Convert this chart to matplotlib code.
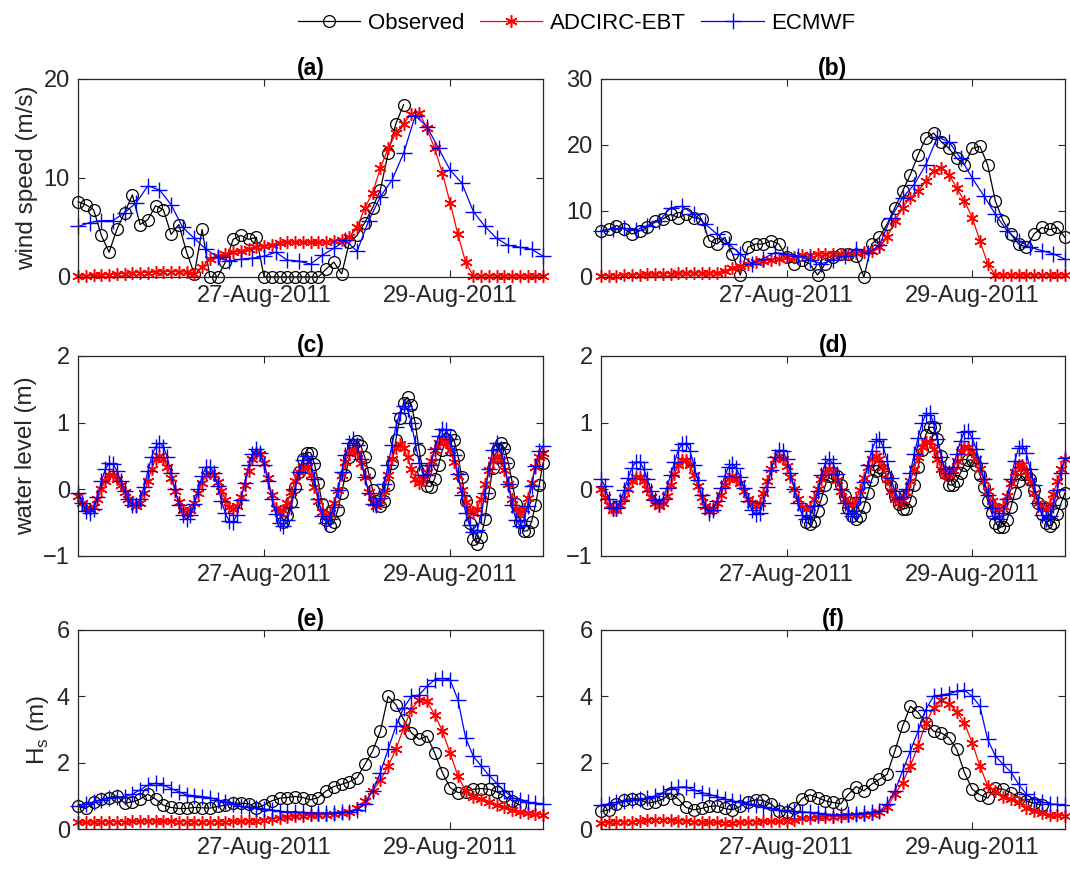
import numpy as np
import matplotlib
matplotlib.use("Agg")
import matplotlib.pyplot as plt
import matplotlib.dates as mdates

plt.rcParams['font.family'] = ['Liberation Sans', 'DejaVu Sans']

# time axes (hours from 25-Aug-2011 00:00)
start = np.datetime64('2011-08-25T00:00')
t_h1 = start + np.arange(121) * np.timedelta64(1, 'h')   # hourly
t_h2 = start + np.arange(61) * np.timedelta64(2, 'h')    # 2-hourly
t_h3 = start + np.arange(41) * np.timedelta64(3, 'h')    # 3-hourly (ECMWF wind)

# ---- wind speed (m/s) ----
wind_a_obs = [7.6, 7.3, 6.8, 4.2, 2.5, 4.8, 6.5, 8.3, 5.3, 5.8, 7.2, 6.8, 4.3, 5.3, 2.5, 0.3,
              4.8, 0.0, 0.0, 1.5, 3.8, 4.2, 3.8, 4.0, 0.0, 0.0, 0.0, 0.0, 0.0, 0.0, 0.0, 0.0,
              0.8, 1.5, 0.3, 3.5, 4.2, 5.5, 7.0, 8.8, 12.5, 15.5, 17.4]
wind_a_adc = [0.1, 0.1, 0.15, 0.2, 0.25, 0.3, 0.35, 0.4, 0.45, 0.45, 0.5, 0.55, 0.55, 0.5, 0.5,
              0.3, 1.0, 1.8, 2.1, 2.3, 2.5, 2.6, 2.8, 3.0, 3.1, 3.2, 3.4, 3.5, 3.5, 3.5, 3.5,
              3.5, 3.5, 3.6, 3.7, 4.0, 5.0, 7.0, 8.5, 11.0, 13.0, 14.5, 15.5, 16.5, 16.6, 15.0,
              13.0, 10.5, 7.5, 4.3, 1.5, 0.1, 0.1, 0.1, 0.1, 0.1, 0.1, 0.1, 0.1, 0.1, 0.1]
wind_a_ecm = [5.1, 5.5, 5.7, 5.7, 6.5, 7.5, 9.2, 8.8, 7.3, 5.0, 3.9, 2.8, 2.0, 1.6, 1.8, 1.9,
              2.1, 2.5, 1.7, 1.6, 1.3, 2.2, 2.9, 3.7, 2.6, 5.7, 8.1, 9.8, 12.5, 16.3, 15.2,
              13.0, 10.8, 9.5, 6.6, 5.1, 3.9, 3.2, 3.0, 2.8, 2.1]

wind_b_obs = [7.0, 7.2, 7.8, 7.3, 6.5, 7.0, 7.5, 8.5, 8.8, 9.5, 9.0, 9.5, 9.0, 8.8, 5.5, 5.0,
              6.0, 3.5, 0.3, 4.5, 5.0, 5.0, 5.5, 5.0, 3.0, 2.0, 2.5, 2.0, 0.3, 2.0, 3.0, 3.5,
              3.5, 3.2, 0.0, 5.0, 6.0, 8.0, 10.5, 13.0, 15.5, 18.5, 21.0, 21.8, 20.5, 19.5,
              18.0, 17.0, 19.5, 19.8, 17.0, 11.5, 8.5, 6.5, 5.0, 4.5, 6.5, 7.5, 7.2, 7.5, 6.0]
wind_b_adc = [0.2, 0.2, 0.2, 0.25, 0.3, 0.35, 0.4, 0.45, 0.5, 0.5, 0.55, 0.6, 0.6, 0.6, 0.6,
              0.6, 0.9, 1.4, 1.7, 2.0, 2.2, 2.4, 2.6, 2.8, 3.0, 3.1, 3.3, 3.4, 3.5, 3.5, 3.5,
              3.5, 3.5, 3.6, 3.8, 4.0, 4.5, 6.0, 8.5, 10.5, 12.0, 13.0, 14.5, 16.0, 16.5, 15.5,
              13.5, 11.5, 9.0, 5.5, 2.0, 0.3, 0.3, 0.3, 0.3, 0.3, 0.3, 0.3, 0.3, 0.3, 0.3]
wind_b_ecm = [7.0, 7.3, 7.4, 7.1, 7.8, 8.5, 10.5, 10.7, 9.5, 8.0, 6.5, 5.0, 3.5, 2.0, 2.8, 3.7,
              3.5, 3.2, 2.5, 2.0, 2.6, 3.2, 4.3, 3.6, 4.8, 9.0, 12.0, 14.0, 17.0, 21.2, 20.5,
              18.0, 15.0, 12.3, 9.5, 7.0, 5.5, 4.5, 4.0, 3.5, 2.7]

# ---- water level (m), hourly; observed starts at hour 53 ----
wl_c_obs = [-0.49, -0.39, -0.19, 0.04, 0.26, 0.46, 0.55,
            0.55, 0.38, 0.10, -0.22, -0.46, -0.55, -0.49, -0.31, -0.05, 0.22,
            0.48, 0.66, 0.72, 0.65, 0.48, 0.24, -0.01, -0.18, -0.25, -0.17,
            0.06, 0.39, 0.74, 1.07, 1.30, 1.38, 1.27, 0.99, 0.59, 0.27,
            0.05, 0.04, 0.16, 0.36, 0.59, 0.76, 0.82, 0.74, 0.51, 0.18,
            -0.18, -0.51, -0.74, -0.82, -0.71, -0.44, -0.06, 0.32, 0.59, 0.70,
            0.62, 0.40, 0.11, -0.22, -0.49, -0.63, -0.62, -0.49, -0.24, 0.07,
            0.40]
wl_c_adc = [-0.10, -0.20, -0.28, -0.30, -0.26, -0.15, 0.00, 0.13, 0.21, 0.21,
            0.16, 0.07, -0.04, -0.15, -0.22, -0.25, -0.20, -0.06, 0.13, 0.31,
            0.45, 0.50, 0.46, 0.34, 0.17, -0.02, -0.19, -0.31, -0.35, -0.31,
            -0.20, -0.05, 0.10, 0.21, 0.25, 0.21, 0.11, -0.03, -0.16, -0.26,
            -0.30, -0.25, -0.11, 0.07, 0.28, 0.45, 0.54, 0.53, 0.40, 0.17,
            -0.09, -0.28, -0.35, -0.31, -0.20, -0.04, 0.13, 0.26, 0.34, 0.34,
            0.22, 0.04, -0.18, -0.34, -0.40, -0.35, -0.21, -0.01, 0.21, 0.41,
            0.55, 0.60, 0.54, 0.39, 0.18, -0.04, -0.19, -0.25, -0.18, -0.02,
            0.22, 0.45, 0.62, 0.68, 0.62, 0.48, 0.30, 0.16, 0.10, 0.15,
            0.26, 0.43, 0.59, 0.70, 0.75, 0.71, 0.59, 0.41, 0.20, -0.01,
            -0.19, -0.31, -0.35, -0.29, -0.14, 0.08, 0.29, 0.44, 0.50, 0.44,
            0.29, 0.08, -0.14, -0.29, -0.35, -0.29, -0.13, 0.10, 0.33, 0.49,
            0.55]
wl_c_ecm = [-0.05, -0.20, -0.32, -0.35, -0.29, -0.11, 0.12, 0.30, 0.39, 0.38,
            0.28, 0.13, -0.02, -0.15, -0.24, -0.24, -0.15, 0.04, 0.27, 0.49,
            0.64, 0.70, 0.64, 0.48, 0.25, 0.00, -0.23, -0.39, -0.45, -0.39,
            -0.22, 0.00, 0.20, 0.33, 0.34, 0.25, 0.05, -0.17, -0.36, -0.48,
            -0.49, -0.38, -0.16, 0.10, 0.36, 0.53, 0.60, 0.54, 0.37, 0.13,
            -0.14, -0.37, -0.51, -0.55, -0.46, -0.26, 0.01, 0.26, 0.44, 0.50,
            0.40, 0.15, -0.15, -0.40, -0.50, -0.44, -0.26, -0.01, 0.26, 0.51,
            0.69, 0.75, 0.67, 0.46, 0.19, -0.06, -0.22, -0.24, -0.13, 0.08,
            0.37, 0.67, 0.94, 1.15, 1.25, 1.21, 0.99, 0.69, 0.40, 0.22,
            0.22, 0.37, 0.60, 0.80, 0.91, 0.89, 0.75, 0.51, 0.23, -0.08,
            -0.35, -0.54, -0.64, -0.61, -0.39, -0.06, 0.31, 0.59, 0.70, 0.61,
            0.39, 0.08, -0.24, -0.46, -0.55, -0.47, -0.25, 0.05, 0.35, 0.57,
            0.65]

wl_d_obs = [-0.49, -0.52, -0.47, -0.33, -0.14, 0.06, 0.20,
            0.25, 0.20, 0.07, -0.10, -0.28, -0.40, -0.45, -0.40, -0.26, -0.06,
            0.14, 0.28, 0.33, 0.29, 0.19, 0.05, -0.10, -0.22, -0.29, -0.29,
            -0.17, 0.06, 0.33, 0.59, 0.82, 0.93, 0.93, 0.76, 0.50, 0.24,
            0.07, 0.06, 0.13, 0.25, 0.37, 0.44, 0.44, 0.37, 0.22, 0.04,
            -0.17, -0.35, -0.50, -0.57, -0.56, -0.46, -0.27, -0.06, 0.13, 0.23,
            0.23, 0.15, -0.01, -0.20, -0.37, -0.50, -0.55, -0.50, -0.37, -0.21,
            -0.05]
wl_d_adc = [0.00, -0.12, -0.24, -0.31, -0.31, -0.24, -0.13, 0.01, 0.12, 0.19,
            0.19, 0.12, 0.01, -0.12, -0.21, -0.25, -0.21, -0.10, 0.06, 0.23,
            0.37, 0.44, 0.44, 0.37, 0.21, 0.05, -0.12, -0.25, -0.32, -0.30,
            -0.21, -0.08, 0.06, 0.16, 0.20, 0.17, 0.09, -0.03, -0.14, -0.22,
            -0.25, -0.20, -0.06, 0.13, 0.31, 0.45, 0.50, 0.46, 0.35, 0.19,
            0.01, -0.15, -0.26, -0.30, -0.26, -0.15, 0.00, 0.15, 0.26, 0.30,
            0.26, 0.14, -0.02, -0.15, -0.24, -0.24, -0.16, -0.01, 0.17, 0.34,
            0.46, 0.50, 0.45, 0.33, 0.15, -0.03, -0.15, -0.20, -0.16, -0.04,
            0.12, 0.31, 0.49, 0.63, 0.71, 0.71, 0.61, 0.46, 0.31, 0.21,
            0.21, 0.29, 0.43, 0.56, 0.64, 0.64, 0.57, 0.46, 0.31, 0.13,
            -0.03, -0.18, -0.26, -0.30, -0.25, -0.10, 0.09, 0.26, 0.37, 0.37,
            0.28, 0.13, -0.05, -0.20, -0.29, -0.29, -0.22, -0.07, 0.12, 0.30,
            0.45]
wl_d_ecm = [0.15, 0.05, -0.15, -0.28, -0.28, -0.18, -0.01, 0.17, 0.32, 0.41,
            0.41, 0.31, 0.15, -0.03, -0.16, -0.20, -0.14, 0.02, 0.21, 0.41,
            0.59, 0.68, 0.69, 0.58, 0.37, 0.14, -0.09, -0.27, -0.35, -0.31,
            -0.17, 0.02, 0.20, 0.34, 0.38, 0.32, 0.18, 0.02, -0.17, -0.31,
            -0.37, -0.35, -0.20, 0.03, 0.29, 0.49, 0.59, 0.58, 0.45, 0.25,
            0.01, -0.21, -0.38, -0.45, -0.41, -0.25, -0.03, 0.21, 0.39, 0.45,
            0.39, 0.23, 0.00, -0.21, -0.36, -0.40, -0.32, -0.12, 0.11, 0.37,
            0.58, 0.72, 0.75, 0.64, 0.43, 0.17, -0.03, -0.14, -0.12, 0.01,
            0.25, 0.53, 0.77, 0.99, 1.12, 1.14, 1.00, 0.75, 0.49, 0.30,
            0.25, 0.34, 0.53, 0.73, 0.86, 0.87, 0.77, 0.61, 0.40, 0.15,
            -0.08, -0.28, -0.40, -0.45, -0.36, -0.14, 0.16, 0.42, 0.62, 0.65,
            0.54, 0.31, 0.07, -0.20, -0.38, -0.45, -0.40, -0.24, -0.01, 0.25,
            0.47]

# ---- significant wave height (m), 2-hourly; observed ends at hour 114 ----
hs_e_obs = [0.68, 0.62, 0.80, 0.90, 0.95, 1.00, 0.78, 0.82, 0.90, 1.05,
            0.90, 0.72, 0.65, 0.62, 0.62, 0.65, 0.64, 0.63, 0.68, 0.72,
            0.78, 0.78, 0.76, 0.64, 0.72, 0.85, 0.93, 0.95, 0.98, 0.95,
            0.88, 0.95, 1.15, 1.28, 1.35, 1.42, 1.55, 1.95, 2.35, 2.95,
            4.00, 3.75, 3.30, 2.90, 2.70, 2.80, 2.30, 1.70, 1.25, 1.10,
            1.12, 1.20, 1.22, 1.20, 1.12, 1.00, 0.85, 0.72]
hs_e_adc = [0.20, 0.20, 0.21, 0.21, 0.22, 0.22, 0.22, 0.23, 0.23, 0.24,
            0.24, 0.23, 0.23, 0.22, 0.22, 0.22, 0.22, 0.22, 0.22, 0.22,
            0.23, 0.23, 0.24, 0.25, 0.28, 0.31, 0.34, 0.36, 0.38, 0.40,
            0.41, 0.42, 0.43, 0.45, 0.48, 0.52, 0.62, 0.83, 1.15, 1.47,
            1.90, 2.40, 3.05, 3.60, 3.90, 3.85, 3.45, 2.95, 2.29, 1.60,
            1.15, 0.98, 0.90, 0.82, 0.72, 0.65, 0.57, 0.52, 0.47, 0.44,
            0.43]
hs_e_ecm = [0.70, 0.75, 0.82, 0.88, 0.93, 0.96, 0.98, 1.05, 1.18, 1.32,
            1.38, 1.32, 1.22, 1.12, 1.03, 1.00, 0.98, 0.95, 0.88, 0.82,
            0.75, 0.68, 0.65, 0.62, 0.60, 0.58, 0.53, 0.52, 0.52, 0.50,
            0.48, 0.48, 0.48, 0.49, 0.50, 0.52, 0.58, 0.75, 1.15, 1.70,
            2.40, 3.10, 3.65, 4.00, 4.04, 4.30, 4.50, 4.54, 4.49, 3.90,
            2.75, 2.19, 1.90, 1.62, 1.38, 1.15, 0.95, 0.86, 0.81, 0.78,
            0.76]

hs_f_obs = [0.53, 0.58, 0.75, 0.88, 0.92, 0.90, 0.78, 0.82, 0.90, 1.08,
            0.90, 0.65, 0.58, 0.62, 0.68, 0.70, 0.62, 0.58, 0.68, 0.82,
            0.88, 0.86, 0.75, 0.55, 0.50, 0.62, 0.92, 1.03, 0.95, 0.85,
            0.80, 0.76, 1.05, 1.28, 1.15, 1.35, 1.50, 1.65, 2.35, 3.10,
            3.70, 3.52, 3.20, 2.95, 2.90, 2.75, 2.40, 1.70, 1.20, 1.03,
            0.93, 1.25, 1.20, 1.10, 0.95, 0.85, 0.78, 0.72]
hs_f_adc = [0.18, 0.20, 0.22, 0.22, 0.22, 0.24, 0.26, 0.28, 0.28, 0.27,
            0.25, 0.24, 0.22, 0.21, 0.20, 0.20, 0.19, 0.19, 0.20, 0.21,
            0.22, 0.23, 0.23, 0.23, 0.24, 0.28, 0.32, 0.34, 0.35, 0.36,
            0.37, 0.38, 0.39, 0.41, 0.43, 0.46, 0.50, 0.65, 1.05, 1.40,
            1.90, 2.50, 3.20, 3.65, 3.88, 3.78, 3.54, 3.20, 2.60, 1.90,
            1.30, 1.15, 0.98, 0.90, 0.80, 0.62, 0.55, 0.48, 0.43, 0.41,
            0.40]
hs_f_ecm = [0.72, 0.76, 0.80, 0.84, 0.87, 0.90, 0.93, 1.00, 1.10, 1.20,
            1.26, 1.27, 1.18, 1.10, 1.04, 0.98, 0.90, 0.85, 0.80, 0.76,
            0.72, 0.67, 0.62, 0.57, 0.55, 0.53, 0.52, 0.50, 0.48, 0.45,
            0.43, 0.43, 0.44, 0.46, 0.48, 0.50, 0.53, 0.75, 1.15, 1.75,
            2.35, 2.95, 3.60, 4.00, 4.04, 4.08, 4.15, 4.19, 4.00, 3.70,
            2.70, 2.20, 1.95, 1.72, 1.35, 1.05, 0.90, 0.82, 0.76, 0.74,
            0.72]

labels = ['Observed', 'ADCIRC-EBT', 'ECMWF']
titles = ['(a)', '(b)', '(c)', '(d)', '(e)', '(f)']
ylabels = ['wind speed (m/s)', 'water level (m)', 'H$_\\mathregular{s}$ (m)']

AX_COL = '#262626'
ASTERISK = (6, 2, 0)   # MATLAB-like '*' marker
fig = plt.figure(figsize=(10.7, 8.71), dpi=100)

# axes rectangles [left, bottom, width, height] in figure fractions
lefts = [0.073, 0.5617]
widths = [0.4346, 0.4336]
bottoms = [0.682, 0.3617, 0.0482]
heights = [0.2273, 0.2296, 0.2285]

panels = [
    ((t_h2[:len(wind_a_obs)], wind_a_obs), (t_h2, wind_a_adc), (t_h3, wind_a_ecm), (0, 20), [0, 10, 20]),
    ((t_h2, wind_b_obs), (t_h2, wind_b_adc), (t_h3, wind_b_ecm), (0, 30), [0, 10, 20, 30]),
    ((t_h1[53:], wl_c_obs), (t_h1, wl_c_adc), (t_h1, wl_c_ecm), (-1, 2), [-1, 0, 1, 2]),
    ((t_h1[53:], wl_d_obs), (t_h1, wl_d_adc), (t_h1, wl_d_ecm), (-1, 2), [-1, 0, 1, 2]),
    ((t_h2[:len(hs_e_obs)], hs_e_obs), (t_h2, hs_e_adc), (t_h2, hs_e_ecm), (0, 6), [0, 2, 4, 6]),
    ((t_h2[:len(hs_f_obs)], hs_f_obs), (t_h2, hs_f_adc), (t_h2, hs_f_ecm), (0, 6), [0, 2, 4, 6]),
]

handles = None
for i, (obs, adc, ecm, ylim, yticks) in enumerate(panels):
    row, col = i // 2, i % 2
    ax = fig.add_axes([lefts[col], bottoms[row], widths[col], heights[row]])
    h1, = ax.plot(obs[0], obs[1], '-', marker='o', color='k', lw=0.9, ms=8.5, mfc='none',
                  mew=0.9, clip_on=False)
    h2, = ax.plot(adc[0], adc[1], '-', marker=ASTERISK, color='r', lw=0.9, ms=9, mew=1.1,
                  clip_on=False)
    h3, = ax.plot(ecm[0], ecm[1], '-', marker='+', color='b', lw=0.9, ms=11, mew=1.0,
                  clip_on=False)
    if handles is None:
        handles = [h1, h2, h3]

    ax.set_xlim(np.datetime64('2011-08-25T00:00'), np.datetime64('2011-08-30T00:00'))
    ax.set_xticks([np.datetime64('2011-08-27T00:00'), np.datetime64('2011-08-29T00:00')])
    ax.xaxis.set_major_formatter(mdates.DateFormatter('%d-%b-%Y'))
    ax.set_ylim(*ylim)
    ax.set_yticks(yticks)
    ax.tick_params(direction='in', top=True, right=True, length=5, width=0.8,
                   labelsize=17, colors=AX_COL, pad=6)
    for s in ax.spines.values():
        s.set_color(AX_COL)
        s.set_linewidth(0.9)
    ax.set_title(titles[i], fontsize=16.5, fontweight='bold', pad=3)
    if col == 0:
        ax.set_ylabel(ylabels[row], fontsize=17.5, color=AX_COL, labelpad=4)

fig.legend(handles, labels, loc='upper center', bbox_to_anchor=(0.539, 1.008), ncol=3,
           frameon=False, fontsize=16, handlelength=2.8, columnspacing=0.7, handletextpad=0.35)

fig.savefig('out.png', dpi=100)
